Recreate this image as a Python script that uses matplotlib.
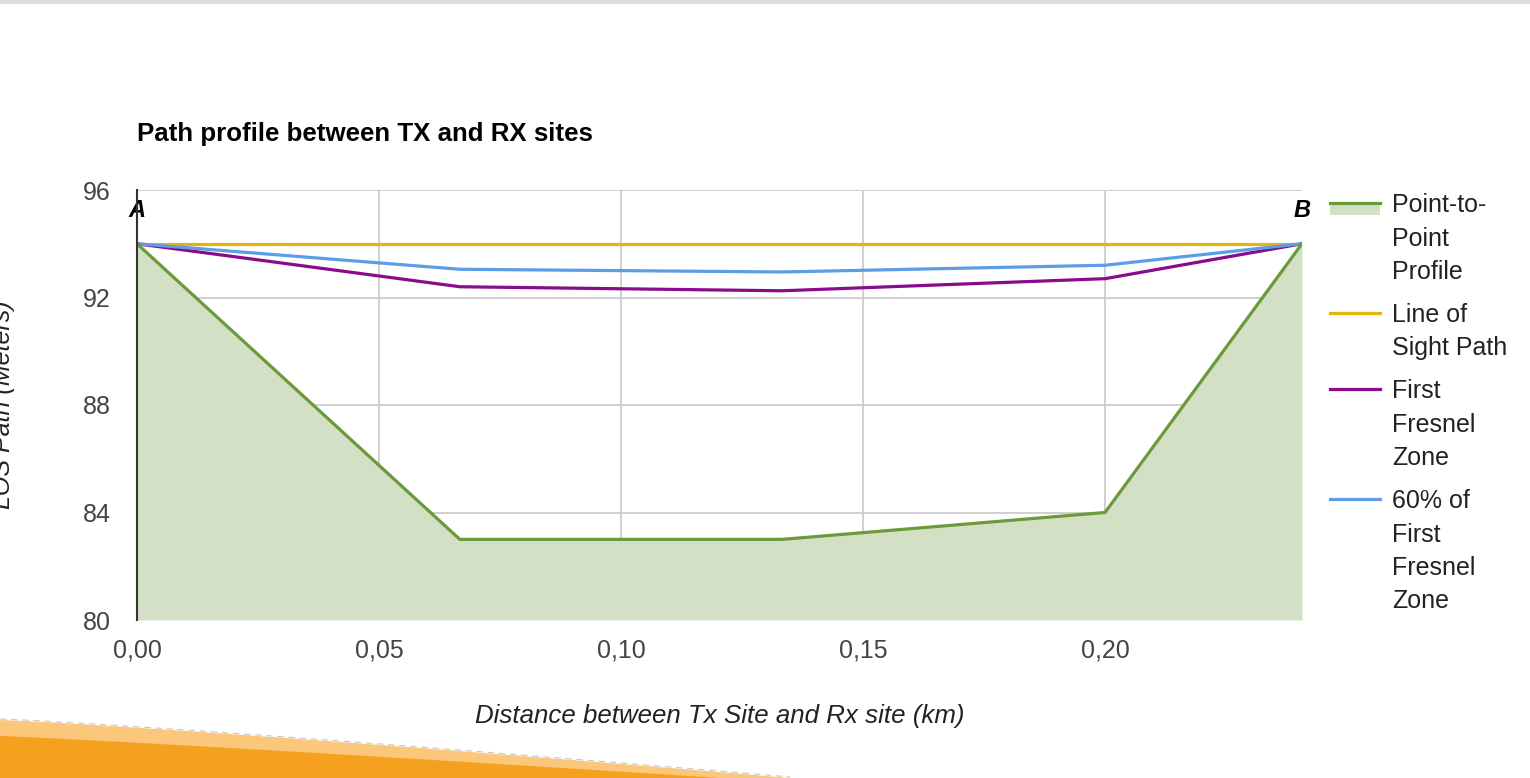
import matplotlib.pyplot as plt
import numpy as np
from matplotlib.lines import Line2D
from matplotlib.patches import Polygon, Rectangle

plt.rcParams.update({"font.family": ["Liberation Sans", "DejaVu Sans"]})

# distance (km) and heights (m)
distance = [0.0, 0.0667, 0.1333, 0.2, 0.2407]
terrain = [94.0, 83.0, 83.0, 84.0, 94.0]
los = [94.0, 94.0, 94.0, 94.0, 94.0]
fresnel = [94.0, 92.4, 92.25, 92.7, 94.0]
fresnel60 = [94.0, 93.05, 92.95, 93.2, 94.0]

y_ticks = [80, 84, 88, 92, 96]
x_ticks = [0.0, 0.05, 0.10, 0.15, 0.20]
x_tick_labels = ["0,00", "0,05", "0,10", "0,15", "0,20"]

labels = ["Point-to-\nPoint\nProfile", "Line of\nSight Path",
          "First\nFresnel\nZone", "60% of\nFirst\nFresnel\nZone"]
colors = ["#6a9a3a", "#e6b50c", "#8b0a8b", "#5b9de6"]
fill_color = "#d4e0c5"

W, H = 1530, 778
fig = plt.figure(figsize=(W / 100, H / 100), dpi=100)
ax = fig.add_axes([137 / W, 1 - 620 / H, (1302 - 137) / W, (620 - 190) / H])

ax.fill_between(distance, terrain, 80, color=fill_color, lw=0, zorder=1)
ax.plot(distance, los, color=colors[1], lw=2.3, zorder=3)
ax.plot(distance, fresnel, color=colors[2], lw=2.3, zorder=3)
ax.plot(distance, fresnel60, color=colors[3], lw=2.3, zorder=3)
ax.plot(distance, terrain, color=colors[0], lw=2.3, zorder=4)

ax.set_xlim(distance[0], distance[-1])
ax.set_ylim(80, 96)
ax.set_yticks(y_ticks)
ax.set_xticks(x_ticks)
ax.set_xticklabels(x_tick_labels)
ax.grid(True, color="#cccccc", lw=1.3, zorder=0)
ax.set_axisbelow(True)
for s in ["top", "right", "bottom"]:
    ax.spines[s].set_visible(False)
ax.spines["left"].set_color("#333333")
ax.spines["left"].set_linewidth(1.5)
ax.spines["left"].set_zorder(5)
ax.tick_params(length=0, labelsize=18, labelcolor="#444444")
ax.tick_params(axis="y", pad=19)
ax.tick_params(axis="x", pad=13)

ax.text(distance[0], 95.25, "A", ha="center", va="center", fontsize=17,
        fontweight="bold", fontstyle="italic", color="black")
ax.text(distance[-1], 95.25, "B", ha="center", va="center", fontsize=17,
        fontweight="bold", fontstyle="italic", color="black")

ax.set_xlabel("Distance between Tx Site and Rx site (km)", fontsize=18.6,
              fontstyle="italic", color="#222222", labelpad=30)

fig.text(137 / W, 1 - 134 / H, "Path profile between TX and RX sites",
         fontsize=18.6, fontweight="bold", va="center", ha="left", color="#000000")
fig.text(3 / W, 1 - 405 / H, "LOS Path (Meters)", rotation=90, fontsize=18,
         fontstyle="italic", ha="center", va="center", color="#222222")

# legend drawn by hand, handle aligned with first text line
y = 203
line_h = 34
for i, (lab, c) in enumerate(zip(labels, colors)):
    yf = 1 - y / H
    if i == 0:
        fig.add_artist(Rectangle((1330 / W, yf - 12 / H), 50 / W, 12 / H,
                                 transform=fig.transFigure, color=fill_color, lw=0))
    fig.add_artist(Line2D([1330 / W, 1380 / W], [yf, yf], color=c, lw=2.3,
                          transform=fig.transFigure))
    fig.text(1392 / W, 1 - (y - 10) / H, lab, fontsize=18, va="top", ha="left",
             color="#222222", linespacing=1.5)
    y += line_h * lab.count("\n") + line_h + 8

# top border and orange swoosh decoration
fig.add_artist(Line2D([0, 1], [1 - 2 / H, 1 - 2 / H], color="#dddddd", lw=3,
                      transform=fig.transFigure))
t = np.linspace(0, 1, 60)
xs = 790 * t
top = 720 + 58 * t ** 1.15
low = 736 + 42 * t ** 1.1
light = np.column_stack([np.r_[xs, 0] / W, 1 - np.r_[top, 778] / H])
fig.add_artist(Polygon(light, closed=True, transform=fig.transFigure,
                       color="#fbc77a", lw=0))
fig.add_artist(Line2D(xs / W, 1 - (top - 1) / H, color="#c8c8c8", lw=0.8,
                      ls=(0, (6, 4)), transform=fig.transFigure))
xs2 = 720 * t
dark = np.column_stack([np.r_[xs2, 0] / W, 1 - np.r_[low, 778] / H])
fig.add_artist(Polygon(dark, closed=True, transform=fig.transFigure,
                       color="#f5a01e", lw=0))

fig.savefig("out.png", dpi=100)
